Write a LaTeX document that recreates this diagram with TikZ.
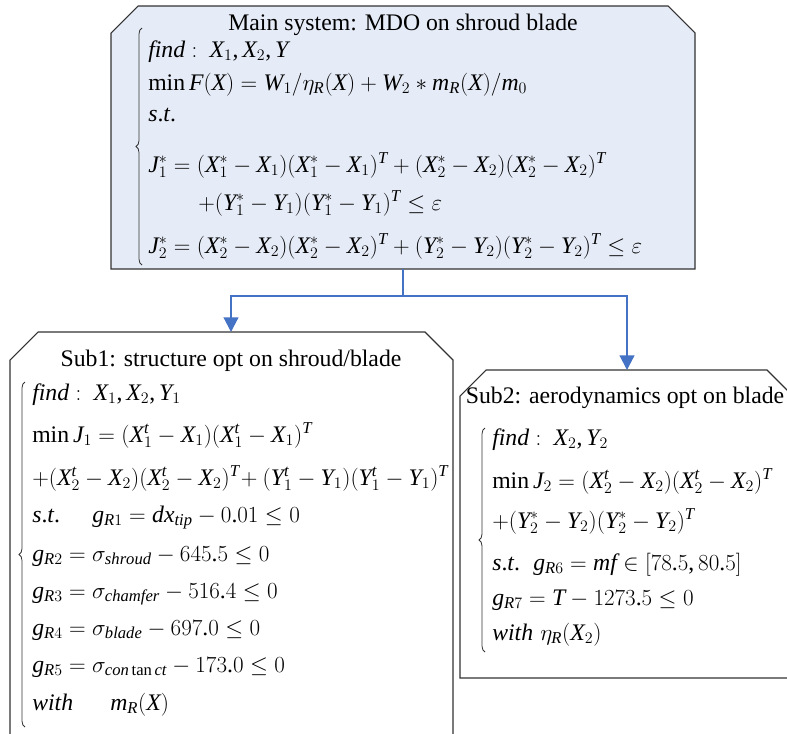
\documentclass[tikz,border=0pt]{standalone}
\usepackage{fontspec}
\setmainfont[NFSSFamily=libser]{Liberation Serif}
\DeclareSymbolFont{cmletters}{OML}{cmm}{m}{it}
\DeclareMathSymbol{\eta}{\mathord}{cmletters}{"11}
\DeclareMathSymbol{\sigma}{\mathord}{cmletters}{"1B}
\DeclareMathSymbol{\varepsilon}{\mathord}{cmletters}{"22}
\SetSymbolFont{letters}{normal}{TU}{libser}{m}{it}
\DeclareMathSymbol{,}{\mathpunct}{operators}{"2C}
\DeclareMathSymbol{.}{\mathord}{operators}{"2E}
\DeclareMathSymbol{/}{\mathord}{operators}{"2F}
\usetikzlibrary{arrows.meta,decorations.pathreplacing}
\definecolor{mainfill}{RGB}{230,236,247}
\definecolor{connblue}{RGB}{68,114,196}
\definecolor{edgecol}{RGB}{50,50,50}
\tikzset{
 boxline/.style={draw=edgecol, line width=0.8pt},
 conn/.style={draw=connblue, line width=1.6pt, -{Triangle[length=11pt,width=11pt]}},
 ttl/.style={anchor=base, inner sep=0pt, font=\fontsize{17.8}{21}\selectfont},
 eq/.style={anchor=base west, inner sep=0pt, font=\fontsize{17.8}{21}\selectfont},
 bracestyle/.style={draw=edgecol, line width=0.6pt, decorate, decoration={brace, amplitude=4.5pt}}
}
\begin{document}
\begin{tikzpicture}[x=0.75pt,y=-0.75pt]
\useasboundingbox (0,0) rectangle (787,733);
\clip (0,0) rectangle (787,733);
% boxes
\draw[boxline, fill=mainfill] (111,269) -- (111,33) -- (138,6) -- (668,6) -- (695,33) -- (695,269) -- cycle;
\draw[boxline] (10,760) -- (10,360) -- (38,332) -- (425,332) -- (453,360) -- (453,760);
\draw[boxline] (460,678) -- (460,396) -- (486,370) -- (767,370) -- (795,398) -- (795,678) -- cycle;
\coordinate (mainS) at (403,269);
\coordinate (s1N) at (231,332);
\coordinate (s2N) at (627,370);
\coordinate (split) at (403,296);
\draw[conn] (mainS) -- (split) -| (s1N);
\draw[conn] (split) -| (s2N);
% main system
\node[ttl] (mt) at (403,30) {Main system: MDO on shroud blade};
\node[eq] (m1) at (148,57) {$\mathit{find}:\ X_1,X_2,Y$};
\node[eq] (m2) at (148,90) {$\min F(X)=W_1/\eta_R(X)+W_2*m_R(X)/m_0$};
\node[eq] (m3) at (148,121) {$\mathit{s.t.}$};
\node[eq] (m4) at (148,172) {$J_1^*=(X_1^*-X_1)(X_1^*-X_1)^T+(X_2^*-X_2)(X_2^*-X_2)^T$};
\node[eq] (m5) at (198,210) {$+(Y_1^*-Y_1)(Y_1^*-Y_1)^T\le\varepsilon$};
\node[eq] (m6) at (148,253) {$J_2^*=(X_2^*-X_2)(X_2^*-X_2)^T+(Y_2^*-Y_2)(Y_2^*-Y_2)^T\le\varepsilon$};
\draw[bracestyle] (142,265) -- (142,28);
% sub1
\node[ttl] (s1t) at (231,366) {Sub1: structure opt on shroud/blade};
\node[eq] (a1) at (32,400) {$\mathit{find}:\ X_1,X_2,Y_1$};
\node[eq] (a2) at (32,442) {$\min J_1=(X_1^t-X_1)(X_1^t-X_1)^T$};
\node[eq] (a3) at (32,485) {$+(X_2^t-X_2)(X_2^t-X_2)^T\!+(Y_1^t-Y_1)(Y_1^t-Y_1)^T$};
\node[eq] (a4) at (32,522) {$\mathit{s.t.}$};
\node[eq] (a4b) at (92,522) {$g_{R1}=dx_{tip}-0.01\le 0$};
\node[eq] (a5) at (32,561) {$g_{R2}=\sigma_{shroud}-645.5\le 0$};
\node[eq] (a6) at (32,598) {$g_{R3}=\sigma_{chamfer}-516.4\le 0$};
\node[eq] (a7) at (32,635) {$g_{R4}=\sigma_{blade}-697.0\le 0$};
\node[eq] (a8) at (32,672) {$g_{R5}=\sigma_{con\tan ct}-173.0\le 0$};
\node[eq] (a9) at (32,710) {$\mathit{with}$};
\node[eq] (a9b) at (110,710) {$m_R(X)$};
\draw[bracestyle] (25,727) -- (25,382);
% sub2
\node[ttl] (s2t) at (625,403) {Sub2: aerodynamics opt on blade};
\node[eq] (b1) at (492,445) {$\mathit{find}:\ X_2,Y_2$};
\node[eq] (b2) at (492,488) {$\min J_2=(X_2^t-X_2)(X_2^t-X_2)^T$};
\node[eq] (b3) at (492,528) {$+(Y_2^*-Y_2)(Y_2^*-Y_2)^T$};
\node[eq] (b4) at (492,570) {$\mathit{s.t.}$};
\node[eq] (b4b) at (533,570) {$g_{R6}=mf\in\big[78.5,80.5\big]$};
\node[eq] (b5) at (492,605) {$g_{R7}=T-1273.5\le 0$};
\node[eq] (b6) at (492,640) {$\mathit{with}$};
\node[eq] (b6b) at (540,640) {$\eta_R(X_2)$};
\draw[bracestyle] (485,652) -- (485,428);
\end{tikzpicture}
\end{document}
